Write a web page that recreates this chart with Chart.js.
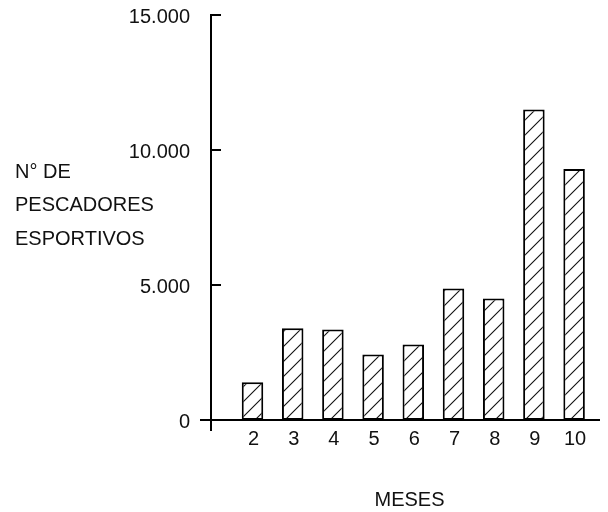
<!DOCTYPE html>
<html><head><meta charset="utf-8">
<script src="https://cdn.jsdelivr.net/npm/chart.js@4.4.1/dist/chart.umd.min.js"></script>
<style>html,body{margin:0;padding:0;background:#fff;} #wrap{width:608px;height:512px;position:relative;}</style>
</head><body><div id="wrap"><canvas id="c" width="608" height="512"></canvas></div>
<script>
// ---- data ----
const categories = ['2','3','4','5','6','7','8','9','10'];
const pescadores = [1400, 3400, 3350, 2430, 2800, 4870, 4500, 11500, 9300];
const yTickValues = [0, 5000, 10000, 15000];
const yTickLabels = ['0', '5.000', '10.000', '15.000'];
const yTitleLines = ['N° DE', 'PESCADORES', 'ESPORTIVOS'];
const xTitle = 'MESES';

// ---- style / layout ----
const FONT = '20px "Liberation Sans", Arial, sans-serif';
const TEXT = '#111';

function hatchPattern() {
  const s = 15;
  const p = document.createElement('canvas');
  p.width = s; p.height = s;
  const g = p.getContext('2d');
  g.fillStyle = '#fff'; g.fillRect(0, 0, s, s);
  g.strokeStyle = '#111'; g.lineWidth = 1.1;
  g.beginPath();
  g.moveTo(-1, s + 1); g.lineTo(s + 1, -1);
  g.moveTo(-1, 1); g.lineTo(1, -1);
  g.moveTo(s - 1, s + 1); g.lineTo(s + 1, s - 1);
  g.stroke();
  return g.createPattern(p, 'repeat');
}

const axesPlugin = {
  id: 'axesPlugin',
  afterDraw(chart) {
    const ctx = chart.ctx;
    const xs = chart.scales.x, ys = chart.scales.y;
    const catW = (xs.right - xs.left) / categories.length;
    const axisX = Math.round(xs.left - 0.53 * catW);
    const base = ys.getPixelForValue(0);
    const top = ys.getPixelForValue(yTickValues[yTickValues.length - 1]);
    ctx.save();
    ctx.strokeStyle = '#000';
    ctx.lineWidth = 2;
    ctx.beginPath();
    ctx.moveTo(axisX, top); ctx.lineTo(axisX, base + 11);
    ctx.moveTo(axisX - 11, base); ctx.lineTo(chart.width - 8, base);
    yTickValues.forEach(v => {
      if (v === 0) return;
      const py = ys.getPixelForValue(v);
      ctx.moveTo(axisX - 1, py); ctx.lineTo(axisX + 10, py);
    });
    ctx.stroke();

    ctx.fillStyle = TEXT;
    ctx.font = FONT;
    ctx.textBaseline = 'middle';
    ctx.textAlign = 'right';
    yTickValues.forEach((v, i) => {
      ctx.fillText(yTickLabels[i], axisX - 21, ys.getPixelForValue(v) + 2);
    });
    ctx.textAlign = 'center';
    categories.forEach((c, i) => {
      ctx.fillText(c, xs.getPixelForValue(i) + 1, base + 19);
    });
    ctx.fillText(xTitle, (axisX + chart.width) / 2, base + 80);
    ctx.textAlign = 'left';
    yTitleLines.forEach((t, i) => {
      ctx.fillText(t, 15, 172 + i * 33.5);
    });
    ctx.restore();
  }
};

new Chart(document.getElementById('c').getContext('2d'), {
  type: 'bar',
  data: {
    labels: categories,
    datasets: [{
      data: pescadores,
      backgroundColor: hatchPattern(),
      borderColor: '#000',
      borderWidth: 2,
      borderSkipped: false,
      categoryPercentage: 1,
      barPercentage: 0.535
    }]
  },
  options: {
    responsive: false,
    animation: false,
    events: [],
    layout: { padding: { left: 232.4, right: 13.8, top: 15, bottom: 92 } },
    plugins: { legend: { display: false }, tooltip: { enabled: false } },
    scales: {
      x: { display: false, offset: true },
      y: { display: false, min: 0, max: 15000 }
    }
  },
  plugins: [axesPlugin]
});
</script>
</body></html>
